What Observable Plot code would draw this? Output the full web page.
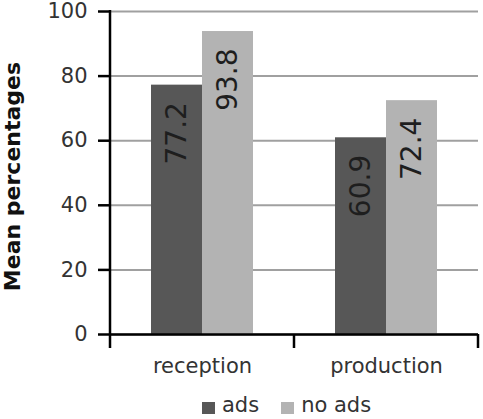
<!DOCTYPE html>
<html><head><meta charset="utf-8">
<script src="https://cdn.jsdelivr.net/npm/d3@7"></script>
<script src="https://cdn.jsdelivr.net/npm/@observablehq/plot@0.6"></script>
<style>
body{margin:0;background:#fff;font-family:"DejaVu Sans",sans-serif;}
#legend{display:flex;align-items:center;margin-left:202px;margin-top:2px;font-size:21px;color:#333;height:27px;line-height:27px;}
#legend .item{display:flex;align-items:center;margin-right:22px;}
#legend .sw{width:13px;height:12px;margin-right:7px;margin-top:4px;}
</style></head><body><div id="chart"></div><div id="legend"></div>
<script>
const categories = ["reception", "production"];
const series = ["ads", "no ads"];
const adsValues = [77.2, 60.9];
const noAdsValues = [93.8, 72.4];
const yTicks = [0, 20, 40, 60, 80, 100];
const colors = ["#575757", "#b3b3b3"];
const yLabel = "Mean percentages";

const data = categories.flatMap((c, i) => [
  {category: c, series: series[0], value: adsValues[i]},
  {category: c, series: series[1], value: noAdsValues[i]}
]);

const plot = Plot.plot({
  width: 483, height: 390,
  marginLeft: 110, marginRight: 5, marginTop: 11, marginBottom: 56,
  style: {fontFamily: "DejaVu Sans", background: "#fff", overflow: "visible"},
  fx: {domain: categories, padding: 0, label: null},
  x: {domain: series, paddingInner: 0, paddingOuter: 0.77, axis: null},
  y: {domain: [0, 100], label: null, axis: null},
  color: {domain: series, range: colors},
  marks: [
    Plot.gridY(yTicks, {stroke: "#a0a0a0", strokeOpacity: 1, strokeWidth: 2}),
    Plot.barY(data, {fx: "category", x: "series", y: "value", fill: "series"}),
    Plot.text(data, {fx: "category", x: "series", y: "value", text: d => d.value.toFixed(1),
      rotate: -90, textAnchor: "end", lineAnchor: "middle", dy: 17, fontSize: 28, fill: "#1e1e1e"}),
    Plot.ruleY([0], {stroke: "black", strokeWidth: 2.5}),
    Plot.axisY({ticks: yTicks, tickSize: 12, tickPadding: 11, fontSize: 21, color: "#333", stroke: "black", strokeWidth: 2.5, label: null}),
    Plot.axisFx({anchor: "bottom", tickSize: 0, tickPadding: 24, fontSize: 21, color: "#333", label: null})
  ]
});

const svg = d3.select(plot);
const fx = plot.scale("fx"), y = plot.scale("y");
const y0 = y.apply(0), y100 = y.apply(100);
const g = svg.append("g").attr("stroke", "black").attr("stroke-width", 2.5);
const xStart = fx.apply(categories[0]);
g.append("line").attr("x1", xStart).attr("x2", xStart).attr("y1", y100 - 1).attr("y2", y0 + 14);
categories.forEach(c => {
  const xr = fx.apply(c) + fx.bandwidth;
  g.append("line").attr("x1", xr).attr("x2", xr).attr("y1", y0).attr("y2", y0 + 14);
});
svg.append("text")
  .attr("transform", `translate(20,${(y0 + y100) / 2 + 4}) rotate(-90)`)
  .attr("text-anchor", "middle")
  .attr("font-size", 22).attr("font-weight", "bold").attr("fill", "#111")
  .attr("font-family", "DejaVu Sans")
  .text(yLabel);

document.getElementById("chart").appendChild(plot);

const legend = d3.select("#legend");
series.forEach((s, i) => {
  const it = legend.append("div").attr("class", "item");
  it.append("div").attr("class", "sw").style("background", colors[i]);
  it.append("span").text(s);
});
</script>
</body></html>
